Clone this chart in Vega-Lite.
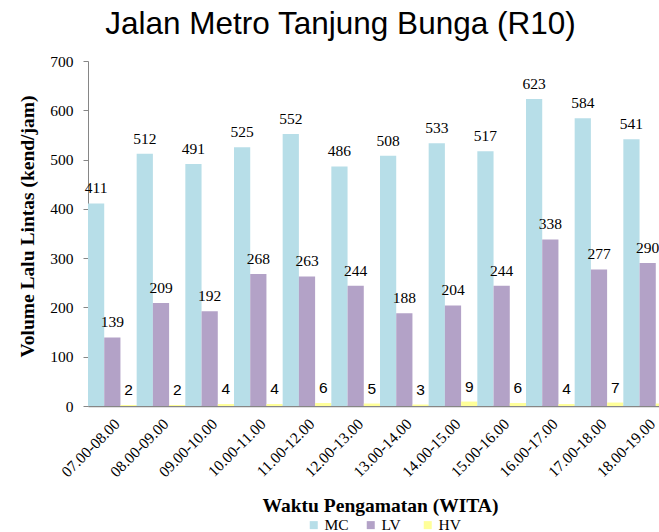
{
  "$schema": "https://vega.github.io/schema/vega-lite/v6.json",
  "width": 571,
  "height": 345,
  "autosize": "none",
  "padding": {"left": 88, "top": 61, "right": 0, "bottom": 126},
  "background": "white",
  "config": {"view": {"stroke": null}, "axis": {"grid": false}},
  "title": {
    "text": "Jalan Metro Tanjung Bunga (R10)",
    "font": "Liberation Sans",
    "fontSize": 31.5,
    "fontWeight": "normal",
    "color": "black",
    "anchor": "middle",
    "frame": "group",
    "dx": -33,
    "dy": 33,
    "offset": 22,
    "baseline": "alphabetic"
  },
  "data": {
    "values": [
      {"time": "07.00-08.00", "type": "MC", "value": 411},
      {"time": "07.00-08.00", "type": "LV", "value": 139},
      {"time": "07.00-08.00", "type": "HV", "value": 2},
      {"time": "08.00-09.00", "type": "MC", "value": 512},
      {"time": "08.00-09.00", "type": "LV", "value": 209},
      {"time": "08.00-09.00", "type": "HV", "value": 2},
      {"time": "09.00-10.00", "type": "MC", "value": 491},
      {"time": "09.00-10.00", "type": "LV", "value": 192},
      {"time": "09.00-10.00", "type": "HV", "value": 4},
      {"time": "10.00-11.00", "type": "MC", "value": 525},
      {"time": "10.00-11.00", "type": "LV", "value": 268},
      {"time": "10.00-11.00", "type": "HV", "value": 4},
      {"time": "11.00-12.00", "type": "MC", "value": 552},
      {"time": "11.00-12.00", "type": "LV", "value": 263},
      {"time": "11.00-12.00", "type": "HV", "value": 6},
      {"time": "12.00-13.00", "type": "MC", "value": 486},
      {"time": "12.00-13.00", "type": "LV", "value": 244},
      {"time": "12.00-13.00", "type": "HV", "value": 5},
      {"time": "13.00-14.00", "type": "MC", "value": 508},
      {"time": "13.00-14.00", "type": "LV", "value": 188},
      {"time": "13.00-14.00", "type": "HV", "value": 3},
      {"time": "14.00-15.00", "type": "MC", "value": 533},
      {"time": "14.00-15.00", "type": "LV", "value": 204},
      {"time": "14.00-15.00", "type": "HV", "value": 9},
      {"time": "15.00-16.00", "type": "MC", "value": 517},
      {"time": "15.00-16.00", "type": "LV", "value": 244},
      {"time": "15.00-16.00", "type": "HV", "value": 6},
      {"time": "16.00-17.00", "type": "MC", "value": 623},
      {"time": "16.00-17.00", "type": "LV", "value": 338},
      {"time": "16.00-17.00", "type": "HV", "value": 4},
      {"time": "17.00-18.00", "type": "MC", "value": 584},
      {"time": "17.00-18.00", "type": "LV", "value": 277},
      {"time": "17.00-18.00", "type": "HV", "value": 7},
      {"time": "18.00-19.00", "type": "MC", "value": 541},
      {"time": "18.00-19.00", "type": "LV", "value": 290},
      {"time": "18.00-19.00", "type": "HV", "value": 5}
    ]
  },
  "encoding": {
    "x": {
      "field": "time",
      "type": "nominal",
      "sort": null,
      "scale": {"range": [0, 584], "paddingInner": 0, "paddingOuter": 0},
      "axis": {
        "title": "Waktu Pengamatan (WITA)",
        "titleFont": "Liberation Serif",
        "titleFontSize": 19.5,
        "titleFontWeight": "bold",
        "titleColor": "black",
        "titleY": 105,
        "titleBaseline": "alphabetic",
        "labelFont": "Liberation Serif",
        "labelFontSize": 15.5,
        "labelColor": "black",
        "labelAngle": -45,
        "labelPadding": 10,
        "ticks": false,
        "domainColor": "#868686",
        "domainWidth": 1.5
      }
    },
    "xOffset": {
      "field": "type",
      "type": "nominal",
      "sort": ["MC", "LV", "HV"],
      "scale": {"paddingInner": 0, "paddingOuter": 0}
    },
    "y": {
      "field": "value",
      "type": "quantitative",
      "scale": {"domain": [0, 700]},
      "axis": {
        "values": [0, 100, 200, 300, 400, 500, 600, 700],
        "title": "Volume Lalu Lintas (kend/jam)",
        "titleFont": "Liberation Serif",
        "titleFontSize": 19.5,
        "titleFontWeight": "bold",
        "titleColor": "black",
        "titleX": -55,
        "titleY": 165,
        "titleBaseline": "alphabetic",
        "labelFont": "Liberation Serif",
        "labelFontSize": 15.5,
        "labelColor": "black",
        "labelPadding": 10,
        "tickSize": 5,
        "tickColor": "#868686",
        "domainColor": "#868686"
      }
    }
  },
  "layer": [
    {
      "mark": {"type": "bar"},
      "encoding": {
        "color": {
          "field": "type",
          "type": "nominal",
          "scale": {"domain": ["MC", "LV", "HV"], "range": ["#B7DEE8", "#B3A2C7", "#FFFF99"]},
          "legend": {
            "title": null,
            "orient": "none",
            "legendX": 218,
            "legendY": 456,
            "direction": "horizontal",
            "symbolType": "square",
            "symbolSize": 64,
            "symbolStrokeWidth": 0,
            "labelFont": "Liberation Serif",
            "labelFontSize": 15.5,
            "labelColor": "black",
            "labelOffset": 3,
            "columnPadding": 14,
            "gridAlign": "all",
            "padding": 0
          }
        }
      }
    },
    {
      "transform": [{"filter": "datum.type !== 'HV'"}],
      "mark": {"type": "text", "font": "Liberation Serif", "fontSize": 15.5, "color": "black", "baseline": "alphabetic", "dy": -10},
      "encoding": {"text": {"field": "value", "type": "quantitative"}}
    },
    {
      "transform": [{"filter": "datum.type === 'HV' && datum.time !== '18.00-19.00'"}],
      "mark": {"type": "text", "font": "Liberation Sans", "fontSize": 15.5, "color": "black", "baseline": "alphabetic", "dy": -10},
      "encoding": {"text": {"field": "value", "type": "quantitative"}}
    }
  ]
}
